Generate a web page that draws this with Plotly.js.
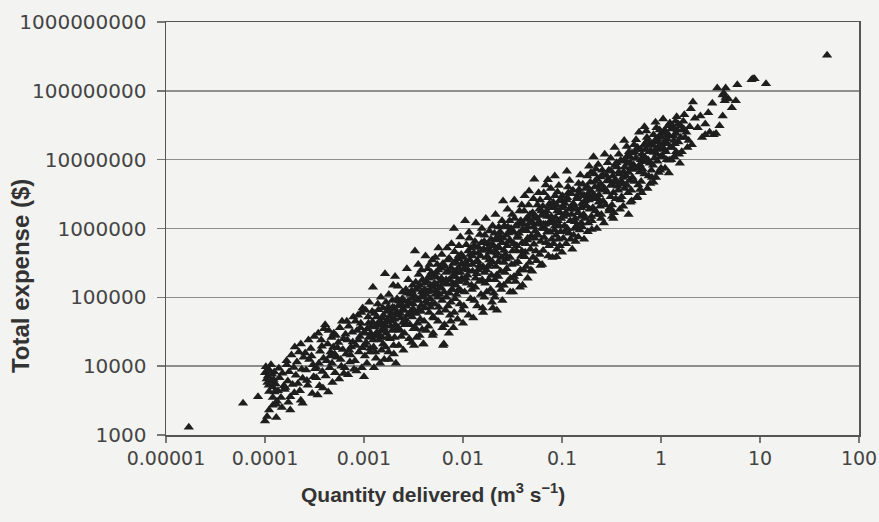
<!DOCTYPE html>
<html>
<head>
<meta charset="utf-8">
<script src="https://cdn.plot.ly/plotly-3.0.1.min.js"></script>
<style>
html,body{margin:0;padding:0;background:#f3f3f1;}
#chart{width:879px;height:522px;}
</style>
</head>
<body>
<div id="chart"></div>
<script>
// [quantity delivered (m3/s), total expense ($)]
const sparseLow = [[1.7e-5,1300],[6e-5,2900],[8.5e-5,3600]];

const decadeE4 = [
[1.0e-4,1600],[1.05e-4,1850],[1.02e-4,9800],[1.08e-4,9000],[1.0e-4,8000],[1.12e-4,8500],[1.07e-4,7200],[1.18e-4,7600],[1.04e-4,6500],[1.14e-4,6000],[1.22e-4,6400],[1.09e-4,5300],[1.2e-4,5000],[1.2e-4,2700],[1.2e-4,3500],[1.1e-4,4300],[1.15e-4,10500],[1.06e-4,5800],[1.24e-4,8200],[1.1e-4,2300],
[1.3e-4,1800],[1.3e-4,2800],[1.28e-4,5500],[1.35e-4,4400],[1.25e-4,4200],[1.4e-4,6800],[1.45e-4,3500],[1.5e-4,7900],[1.38e-4,9300],[1.55e-4,5200],[1.32e-4,3100],[1.48e-4,2500],[1.58e-4,4600],
[1.6e-4,4900],[1.65e-4,12000],[1.66e-4,10500],[1.8e-4,2300],[1.8e-4,3600],[1.7e-4,6100],[1.75e-4,8300],[1.9e-4,5400],[1.85e-4,14500],[1.95e-4,9600],[1.72e-4,3000],[1.98e-4,4100],
[2.3e-4,3200],[2.4e-4,2900],[2.05e-4,7400],[2.1e-4,11500],[2.2e-4,16000],[2.15e-4,5600],[2.35e-4,9000],[2.45e-4,13500],[2.0e-4,19000],[2.25e-4,4400],[2.4e-4,6700],[2.3e-4,21000],
[2.7e-4,5300],[3.0e-4,4000],[2.6e-4,8800],[2.8e-4,12500],[2.9e-4,18000],[3.1e-4,7000],[2.55e-4,15500],[2.75e-4,24000],[3.05e-4,10500],[3.15e-4,27000],[2.65e-4,6200],[2.95e-4,14000],[3.2e-4,9200],
[3.4e-4,3800],[3.3e-4,6800],[3.5e-4,11000],[3.6e-4,16500],[3.7e-4,24000],[3.8e-4,8400],[3.45e-4,30000],[3.9e-4,13000],[3.55e-4,5200],[3.75e-4,19500],[3.95e-4,35000],[3.3e-4,9600],[3.85e-4,4800],
[4.1e-4,7200],[4.2e-4,12000],[4.3e-4,21000],[4.4e-4,33000],[4.5e-4,9500],[4.6e-4,16000],[4.7e-4,26000],[4.8e-4,5800],[4.05e-4,40000],[4.55e-4,14000],[4.9e-4,19000],[4.35e-4,4200],[4.75e-4,11000],[4.95e-4,30000],
[5.1e-4,8000],[5.3e-4,13500],[5.5e-4,22000],[5.7e-4,36000],[5.9e-4,10000],[6.1e-4,17500],[5.2e-4,28000],[5.6e-4,6500],[6.0e-4,45000],[5.4e-4,18500],[5.8e-4,12500],[6.2e-4,25000],[5.05e-4,15000],[6.25e-4,7800],
[6.4e-4,9500],[6.6e-4,15000],[6.8e-4,24000],[7.0e-4,38000],[7.2e-4,11500],[7.4e-4,19000],[7.6e-4,31000],[7.8e-4,52000],[6.5e-4,29000],[6.9e-4,7500],[7.3e-4,14500],[7.7e-4,22500],[7.9e-4,9000],[6.7e-4,45000],[7.1e-4,17000],
[8.1e-4,12000],[8.3e-4,20000],[8.5e-4,33000],[8.7e-4,55000],[8.9e-4,16000],[9.1e-4,27000],[9.3e-4,42000],[9.5e-4,9500],[9.7e-4,70000],[8.4e-4,8500],[8.8e-4,24000],[9.2e-4,36000],[9.6e-4,18500],[9.9e-4,30000],[8.2e-4,45000],[9.4e-4,60000]
];

const decadeE3 = [
[1.0e-3,7000],[1.02e-3,14000],[1.05e-3,22000],[1.08e-3,35000],[1.1e-3,52000],[1.13e-3,85000],[1.16e-3,18000],[1.19e-3,28000],[1.22e-3,44000],[1.23e-3,140000],[1.04e-3,65000],[1.07e-3,11000],[1.12e-3,26000],[1.18e-3,38000],[1.21e-3,62000],[1.01e-3,31000],[1.15e-3,16000],[1.24e-3,24000],
[1.26e-3,9500],[1.3e-3,16000],[1.33e-3,27000],[1.36e-3,41000],[1.4e-3,66000],[1.45e-3,11000],[1.48e-3,100000],[1.5e-3,33000],[1.53e-3,50000],[1.56e-3,21000],[1.28e-3,58000],[1.38e-3,80000],[1.42e-3,24000],[1.58e-3,36000],[1.32e-3,13000],[1.46e-3,45000],[1.55e-3,70000],[1.35e-3,31000],[1.5e-3,17000],
[1.6e-3,12500],[1.63e-3,220000],[1.65e-3,19000],[1.68e-3,30000],[1.72e-3,47000],[1.75e-3,72000],[1.78e-3,110000],[1.8e-3,12500],[1.83e-3,25000],[1.86e-3,38000],[1.9e-3,58000],[1.93e-3,90000],[1.97e-3,150000],[1.62e-3,40000],[1.7e-3,62000],[1.77e-3,16000],[1.85e-3,53000],[1.92e-3,33000],[1.99e-3,20000],[1.67e-3,85000],
[2.0e-3,15000],[2.04e-3,26000],[2.08e-3,40000],[2.12e-3,61000],[2.16e-3,95000],[2.2e-3,145000],[2.25e-3,20000],[2.3e-3,33000],[2.35e-3,50000],[2.4e-3,78000],[2.45e-3,120000],[2.02e-3,70000],[2.1e-3,11000],[2.18e-3,55000],[2.28e-3,88000],[2.38e-3,27000],[2.48e-3,43000],[2.06e-3,200000],[2.22e-3,36000],[2.42e-3,65000],
[2.5e-3,17000],[2.56e-3,30000],[2.62e-3,48000],[2.68e-3,74000],[2.74e-3,115000],[2.8e-3,180000],[2.86e-3,25000],[2.92e-3,40000],[2.98e-3,62000],[3.04e-3,96000],[3.1e-3,150000],[3.16e-3,35000],[2.53e-3,90000],[2.65e-3,130000],[2.77e-3,56000],[2.89e-3,82000],[3.01e-3,22000],[3.13e-3,68000],[2.59e-3,40000],[2.71e-3,260000],[2.95e-3,110000],[3.07e-3,52000],
[3.2e-3,20000],[3.27e-3,470000],[3.3e-3,36000],[3.36e-3,58000],[3.43e-3,90000],[3.5e-3,140000],[3.57e-3,215000],[3.64e-3,28000],[3.7e-3,48000],[3.77e-3,76000],[3.84e-3,120000],[3.9e-3,180000],[3.96e-3,21000],[3.23e-3,105000],[3.33e-3,165000],[3.47e-3,42000],[3.6e-3,66000],[3.74e-3,100000],[3.87e-3,34000],[3.53e-3,300000],[3.4e-3,26000],[3.8e-3,250000],
[4.0e-3,21000],[4.05e-3,45000],[4.13e-3,70000],[4.22e-3,110000],[4.3e-3,170000],[4.4e-3,260000],[4.48e-3,38000],[4.56e-3,60000],[4.64e-3,95000],[4.72e-3,150000],[4.8e-3,230000],[4.9e-3,350000],[4.98e-3,52000],[4.1e-3,130000],[4.25e-3,33000],[4.35e-3,82000],[4.52e-3,200000],[4.68e-3,125000],[4.85e-3,80000],[4.94e-3,28000],[4.18e-3,400000],[4.6e-3,300000],
[5.0e-3,30000],[5.1e-3,50000],[5.2e-3,80000],[5.3e-3,125000],[5.4e-3,195000],[5.5e-3,300000],[5.6e-3,45000],[5.7e-3,72000],[5.8e-3,110000],[5.9e-3,170000],[6.0e-3,265000],[6.1e-3,420000],[6.2e-3,36000],[6.3e-3,20000],[5.15e-3,160000],[5.35e-3,230000],[5.55e-3,100000],[5.75e-3,60000],[5.95e-3,140000],[6.15e-3,90000],[5.25e-3,380000],[5.65e-3,520000],
[6.4e-3,21000],[6.5e-3,40000],[6.65e-3,65000],[6.8e-3,100000],[6.95e-3,155000],[7.1e-3,240000],[7.25e-3,370000],[7.4e-3,55000],[7.55e-3,85000],[7.7e-3,130000],[7.85e-3,200000],[7.98e-3,310000],[6.55e-3,280000],[6.75e-3,180000],[6.9e-3,520000],[7.05e-3,75000],[7.3e-3,115000],[7.5e-3,45000],[7.65e-3,600000],[7.9e-3,160000],[6.45e-3,120000],[7.2e-3,30000],
[8.0e-3,36000],[8.15e-3,60000],[8.3e-3,95000],[8.5e-3,150000],[8.7e-3,230000],[8.9e-3,360000],[9.1e-3,560000],[9.3e-3,80000],[9.5e-3,125000],[9.7e-3,190000],[9.9e-3,300000],[8.2e-3,460000],[8.4e-3,200000],[8.6e-3,110000],[8.8e-3,48000],[9.0e-3,270000],[9.2e-3,170000],[9.4e-3,750000],[9.6e-3,420000],[9.8e-3,65000],[8.1e-3,1000000],[9.05e-3,130000]
];

const decadeE2 = [
[1.0e-2,42000],[1.02e-2,75000],[1.04e-2,120000],[1.07e-2,190000],[1.1e-2,300000],[1.13e-2,470000],[1.16e-2,720000],[1.19e-2,95000],[1.22e-2,150000],[1.25e-2,240000],[1.01e-2,380000],[1.05e-2,1300000],[1.08e-2,580000],[1.11e-2,210000],[1.14e-2,55000],[1.17e-2,350000],[1.2e-2,520000],[1.23e-2,130000],[1.03e-2,260000],[1.15e-2,880000],[1.24e-2,400000],[1.09e-2,160000],
[1.27e-2,50000],[1.3e-2,90000],[1.33e-2,140000],[1.37e-2,220000],[1.4e-2,340000],[1.44e-2,530000],[1.48e-2,820000],[1.52e-2,110000],[1.56e-2,180000],[1.59e-2,280000],[1.29e-2,440000],[1.32e-2,650000],[1.35e-2,1200000],[1.39e-2,75000],[1.42e-2,250000],[1.46e-2,170000],[1.5e-2,400000],[1.54e-2,620000],[1.58e-2,70000],[1.34e-2,190000],[1.47e-2,290000],[1.55e-2,1000000],
[1.6e-2,60000],[1.64e-2,100000],[1.68e-2,160000],[1.72e-2,250000],[1.76e-2,390000],[1.8e-2,600000],[1.85e-2,920000],[1.9e-2,130000],[1.94e-2,210000],[1.98e-2,330000],[1.62e-2,500000],[1.66e-2,800000],[1.7e-2,1400000],[1.74e-2,120000],[1.78e-2,280000],[1.82e-2,180000],[1.87e-2,460000],[1.92e-2,700000],[1.96e-2,85000],[1.65e-2,230000],[1.84e-2,350000],[1.99e-2,1100000],
[2.0e-2,70000],[2.05e-2,115000],[2.1e-2,180000],[2.15e-2,280000],[2.2e-2,440000],[2.25e-2,680000],[2.3e-2,1050000],[2.35e-2,150000],[2.4e-2,240000],[2.45e-2,380000],[2.2e-2,65000],[2.1e-2,100000],[2.03e-2,550000],[2.08e-2,850000],[2.13e-2,1600000],[2.18e-2,210000],[2.28e-2,330000],[2.33e-2,520000],[2.38e-2,780000],[2.43e-2,130000],[2.48e-2,1300000],[2.27e-2,200000],[2.17e-2,400000],
[2.5e-2,90000],[2.54e-2,2500000],[2.58e-2,150000],[2.65e-2,230000],[2.72e-2,360000],[2.8e-2,560000],[2.87e-2,860000],[2.95e-2,1300000],[3.02e-2,190000],[3.1e-2,300000],[3.17e-2,470000],[2.55e-2,720000],[2.62e-2,1100000],[2.68e-2,420000],[2.76e-2,260000],[2.84e-2,170000],[2.91e-2,650000],[2.99e-2,380000],[3.06e-2,1000000],[3.14e-2,1600000],[2.6e-2,320000],[2.82e-2,1900000],[3.0e-2,120000],
[3.2e-2,120000],[3.28e-2,200000],[3.36e-2,310000],[3.45e-2,480000],[3.54e-2,740000],[3.63e-2,1150000],[3.72e-2,1800000],[3.8e-2,250000],[3.88e-2,400000],[3.96e-2,620000],[3.24e-2,900000],[3.32e-2,1400000],[3.4e-2,170000],[3.5e-2,560000],[3.58e-2,330000],[3.67e-2,850000],[3.76e-2,140000],[3.84e-2,1300000],[3.92e-2,2200000],[3.3e-2,2600000],[3.6e-2,220000],[3.98e-2,950000],
[4.0e-2,150000],[4.1e-2,250000],[4.2e-2,390000],[4.3e-2,600000],[4.4e-2,930000],[4.5e-2,1450000],[4.6e-2,2200000],[4.7e-2,320000],[4.8e-2,500000],[4.9e-2,780000],[4.05e-2,1150000],[4.15e-2,1800000],[4.25e-2,450000],[4.35e-2,280000],[4.45e-2,680000],[4.55e-2,1050000],[4.65e-2,3500000],[4.75e-2,1600000],[4.85e-2,250000],[4.95e-2,1250000],[4.5e-2,190000],[4.2e-2,3000000],
[5.0e-2,240000],[5.1e-2,380000],[5.2e-2,590000],[5.35e-2,910000],[5.5e-2,1400000],[5.65e-2,2200000],[5.8e-2,3300000],[5.95e-2,420000],[6.1e-2,650000],[6.25e-2,1000000],[5.05e-2,1700000],[5.15e-2,2700000],[5.3e-2,720000],[5.45e-2,470000],[5.6e-2,1150000],[5.75e-2,800000],[5.9e-2,1900000],[6.05e-2,290000],[6.2e-2,1550000],[5.25e-2,5200000],[5.55e-2,340000],[6.0e-2,2600000],
[6.3e-2,300000],[6.45e-2,480000],[6.6e-2,740000],[6.8e-2,1150000],[7.0e-2,1800000],[7.2e-2,2800000],[7.2e-2,5100000],[7.4e-2,560000],[7.6e-2,880000],[7.8e-2,1350000],[6.4e-2,2100000],[6.55e-2,3300000],[6.7e-2,1000000],[6.9e-2,620000],[7.1e-2,1500000],[7.3e-2,400000],[7.5e-2,2300000],[7.7e-2,3800000],[7.9e-2,700000],[6.85e-2,4300000],[7.35e-2,1200000],[7.95e-2,2000000],
[8.0e-2,380000],[8.2e-2,600000],[8.4e-2,950000],[8.6e-2,1450000],[8.8e-2,390000],[8.8e-2,2200000],[9.0e-2,3400000],[9.2e-2,700000],[9.4e-2,1100000],[9.6e-2,1700000],[9.8e-2,2600000],[8.1e-2,1250000],[8.3e-2,2000000],[8.5e-2,3000000],[8.7e-2,800000],[8.9e-2,500000],[9.1e-2,1300000],[9.3e-2,4200000],[9.5e-2,560000],[9.7e-2,900000],[9.9e-2,2000000],[8.45e-2,5800000]
];

const decadeE1 = [
[0.1,450000],[0.103,720000],[0.106,1100000],[0.109,1700000],[0.112,6800000],[0.112,2600000],[0.115,4000000],[0.118,850000],[0.121,1300000],[0.124,2000000],[0.101,3000000],[0.104,1500000],[0.107,2300000],[0.11,600000],[0.113,1000000],[0.116,3300000],[0.119,5000000],[0.122,700000],[0.125,1600000],[0.108,900000],
[0.127,500000],[0.131,800000],[0.135,1250000],[0.139,1900000],[0.143,2900000],[0.147,4500000],[0.151,950000],[0.155,1500000],[0.159,2300000],[0.129,3600000],[0.133,2100000],[0.137,650000],[0.141,1100000],[0.145,1700000],[0.149,3300000],[0.153,6000000],[0.157,1200000],[0.134,1000000],[0.146,750000],
[0.16,1050000],[0.165,1600000],[0.17,2500000],[0.175,3800000],[0.18,5800000],[0.185,1200000],[0.19,1900000],[0.195,2900000],[0.2,970000],[0.162,4400000],[0.167,700000],[0.172,1400000],[0.178,2100000],[0.183,3200000],[0.188,8000000],[0.193,4700000],[0.198,1500000],[0.168,3000000],[0.182,900000],[0.196,6500000],
[0.2,1300000],[0.205,2000000],[0.21,3100000],[0.215,4800000],[0.22,7300000],[0.225,1000000],[0.23,1600000],[0.235,2400000],[0.24,3700000],[0.245,5600000],[0.208,11000000],[0.218,1800000],[0.228,2800000],[0.238,4200000],[0.248,1400000],[0.212,6200000],[0.232,8500000],[0.242,2100000],
[0.25,1600000],[0.26,2500000],[0.27,3800000],[0.28,5900000],[0.29,9000000],[0.3,1900000],[0.31,2900000],[0.32,4400000],[0.3,1800000],[0.305,2000000],[0.255,7000000],[0.265,1200000],[0.275,2200000],[0.285,3400000],[0.295,5200000],[0.315,6800000],[0.27,12000000],[0.31,10500000],[0.32,1500000],
[0.32,2200000],[0.33,3300000],[0.345,5100000],[0.36,7800000],[0.375,12000000],[0.39,2600000],[0.335,1700000],[0.35,2700000],[0.365,4100000],[0.38,6200000],[0.395,9500000],[0.34,15000000],[0.37,3600000],[0.385,1900000],[0.355,9000000],[0.4,4800000],[0.33,1400000],
[0.4,2900000],[0.41,4400000],[0.42,6700000],[0.435,10000000],[0.45,15500000],[0.465,3300000],[0.48,5000000],[0.495,7600000],[0.415,2100000],[0.43,3800000],[0.445,5800000],[0.46,8800000],[0.475,13000000],[0.49,2400000],[0.425,19000000],[0.455,4200000],[0.485,11000000],[0.47,1600000],
[0.5,3600000],[0.515,5500000],[0.53,8400000],[0.545,12800000],[0.56,19500000],[0.575,2900000],[0.57,2800000],[0.59,4300000],[0.61,6600000],[0.625,10000000],[0.505,2500000],[0.52,7200000],[0.54,4800000],[0.555,10500000],[0.58,15000000],[0.6,25000000],[0.615,3700000],[0.535,16500000],[0.595,7800000],[0.62,14000000],
[0.63,4800000],[0.65,7300000],[0.67,11000000],[0.69,17000000],[0.71,26000000],[0.73,3800000],[0.75,5800000],[0.77,8900000],[0.79,13500000],[0.64,3300000],[0.66,9300000],[0.68,6200000],[0.7,14000000],[0.72,21000000],[0.74,10000000],[0.76,16000000],[0.78,4500000],[0.8,7000000],[0.68,30000000],
[0.81,5500000],[0.83,8300000],[0.85,12700000],[0.87,19000000],[0.89,5500000],[0.9,29000000],[0.92,9500000],[0.94,14500000],[0.96,22000000],[0.98,7000000],[0.82,16500000],[0.86,10500000],[0.88,35000000],[0.91,12000000],[0.93,18000000],[0.95,6500000],[0.97,27000000],[0.99,11000000],[0.84,4700000]
];

const decadeE0 = [
[1.0,7500000],[1.03,11500000],[1.06,17500000],[1.09,27000000],[1.1,7500000],[1.12,13000000],[1.15,20000000],[1.18,31000000],[1.21,9800000],[1.24,15000000],[1.02,24000000],[1.05,39000000],[1.08,14000000],[1.14,10000000],[1.17,23000000],[1.2,6400000],[1.23,34000000],[1.11,18000000],
[1.3,15000000],[1.27,10000000],[1.34,22000000],[1.4,36000000],[1.42,13000000],[1.46,27000000],[1.5,18000000],[1.55,8900000],[1.58,31000000],[1.32,30000000],[1.38,17000000],[1.44,42000000],[1.52,12000000],[1.36,11000000],[1.65,27000000],
[1.75,21000000],[1.85,15000000],[2.05,16500000],[1.68,36000000],[1.8,25000000],[1.9,19000000],[1.95,30000000],[1.62,13000000],[1.72,45000000],[2.0,55000000],
[2.1,69000000],[2.5,43000000],[3.0,48000000],[3.3,66000000],[2.8,33000000],[2.35,29000000],[3.9,31000000],[2.8,23000000],[3.1,25000000],[3.4,23000000],[4.2,43000000],[2.2,40000000],[2.6,21000000],[3.6,24000000]
];

const coreExtra = [
[1.03e-3,20000],[1.11e-3,42000],[1.17e-3,30000],[1.25e-3,19000],[1.29e-3,37000],[1.34e-3,52000],[1.41e-3,29000],[1.47e-3,39000],[1.52e-3,26000],[1.57e-3,55000],[1.61e-3,33000],[1.69e-3,44000],[1.74e-3,26000],[1.81e-3,68000],[1.88e-3,45000],[1.95e-3,72000],
[2.03e-3,48000],[2.14e-3,34000],[2.21e-3,75000],[2.33e-3,58000],[2.44e-3,95000],[2.55e-3,65000],[2.67e-3,42000],[2.79e-3,88000],[2.91e-3,55000],[3.03e-3,125000],[3.14e-3,80000],[3.26e-3,60000],[3.38e-3,130000],[3.52e-3,92000],[3.66e-3,150000],[3.79e-3,62000],[3.93e-3,105000],[4.07e-3,160000],[4.21e-3,88000],[4.37e-3,120000],[4.53e-3,190000],[4.7e-3,72000],[4.87e-3,140000],
[5.05e-3,210000],[5.22e-3,110000],[5.42e-3,150000],[5.62e-3,250000],[5.83e-3,135000],[6.05e-3,190000],[6.28e-3,310000],[6.52e-3,160000],[6.76e-3,230000],[7.0e-3,350000],[7.27e-3,180000],[7.54e-3,270000],[7.82e-3,130000],[8.1e-3,240000],[8.4e-3,330000],[8.72e-3,170000],[9.05e-3,400000],[9.4e-3,230000],[9.75e-3,310000],
[1.01e-2,180000],[1.06e-2,320000],[1.12e-2,250000],[1.18e-2,420000],[1.24e-2,300000],[1.3e-2,560000],[1.36e-2,330000],[1.43e-2,440000],[1.5e-2,270000],[1.57e-2,480000],[1.64e-2,650000],[1.72e-2,380000],[1.8e-2,520000],[1.88e-2,300000],[1.97e-2,600000],
[2.06e-2,450000],[2.16e-2,720000],[2.26e-2,540000],[2.37e-2,900000],[2.48e-2,620000],[2.6e-2,480000],[2.72e-2,800000],[2.85e-2,1050000],[2.98e-2,680000],[3.12e-2,880000],[3.27e-2,600000],[3.42e-2,1100000],[3.58e-2,780000],[3.75e-2,1250000],[3.93e-2,470000],[4.11e-2,950000],[4.3e-2,1350000],[4.5e-2,720000],[4.71e-2,1200000],[4.93e-2,1600000],
[5.16e-2,1050000],[5.4e-2,1500000],[5.65e-2,820000],[5.92e-2,1250000],[6.2e-2,1800000],[6.49e-2,1150000],[6.79e-2,1650000],[7.11e-2,900000],[7.45e-2,2100000],[7.8e-2,1500000],[8.16e-2,2400000],[8.55e-2,1100000],[8.95e-2,1800000],[9.37e-2,2500000],[9.8e-2,1400000],
[0.103,2100000],[0.108,1600000],[0.113,2800000],[0.118,1900000],[0.124,3200000],[0.13,2300000],[0.136,1400000],[0.142,2700000],[0.149,3700000],[0.156,2000000],[0.163,3000000],[0.171,2200000],[0.179,4100000],[0.187,2600000],[0.196,3500000],
[0.205,2700000],[0.215,4000000],[0.225,5200000],[0.236,3100000],[0.247,4400000],[0.259,6000000],[0.271,3600000],[0.284,4900000],[0.297,7000000],[0.311,4200000],[0.326,5800000],[0.341,8200000],[0.357,4700000],[0.374,6600000],[0.392,9800000],[0.41,5500000],[0.43,7800000],[0.45,11000000],[0.47,6500000],[0.49,9000000],
[0.51,12500000],[0.535,7500000],[0.56,10500000],[0.585,14000000],[0.61,8500000],[0.64,12000000],[0.67,16000000],[0.7,10500000],[0.73,19000000],[0.76,13000000],[0.8,17000000],[0.84,23000000],[0.88,14000000],[0.92,20000000],[0.96,16000000],
[1.01,21000000],[1.06,14500000],[1.11,25000000],[1.16,17000000],[1.22,22000000],[1.28,28000000],[1.35,19000000],[1.42,24000000],[1.5,33000000],[1.58,21000000],[1.7,28000000]
];

const sparseHigh = [
[3.7,110000000],[4.5,110000000],[5.9,123000000],[8.2,145000000],[8.5,150000000],[8.8,150000000],[11.5,127000000],[47.6,330000000],[4.2,87000000],[4.5,80000000],[4.8,76000000],[5.7,72000000],[5.2,57000000],[4.3,92000000],[4.4,72000000]
];

const xTickVals = [0.00001,0.0001,0.001,0.01,0.1,1,10,100];
const xTickText = ['0.00001','0.0001','0.001','0.01','0.1','1','10','100'];
const yTickVals = [1000,10000,100000,1000000,10000000,100000000,1000000000];
const yTickText = ['1000','10000','100000','1000000','10000000','100000000','1000000000'];
const xTitle = 'Quantity delivered (m<sup>3</sup> s<sup>−1</sup>)';
const yTitle = 'Total expense ($)';

const allPts = [].concat(sparseLow, decadeE4, decadeE3, decadeE2, decadeE1, decadeE0, coreExtra, sparseHigh);
const qty = allPts.map(p => p[0]);
const expense = allPts.map(p => p[1]);

const trace = {
  x: qty, y: expense, type: 'scatter', mode: 'markers',
  marker: {symbol: 'triangle-up', size: 9, color: '#1e1e1e', line: {width: 0}},
  hoverinfo: 'skip'
};

const tickFontY = {family: '"DejaVu Sans", Arial, sans-serif', size: 20, color: '#444'};
const tickFontX = {family: '"DejaVu Sans", Arial, sans-serif', size: 19, color: '#444'};
const titleFamily = '"Liberation Sans", Arial, sans-serif';

const layout = {
  width: 879, height: 522,
  margin: {l: 166, r: 20, t: 22, b: 87},
  paper_bgcolor: '#f3f3f1', plot_bgcolor: '#f3f3f1',
  showlegend: false,
  xaxis: {
    type: 'log', range: [-5, 2],
    tickvals: xTickVals, ticktext: xTickText,
    ticks: 'outside', ticklen: 6, tickwidth: 1.5, tickcolor: '#777',
    showgrid: false, zeroline: false,
    showline: true, linecolor: '#555', linewidth: 1.5, mirror: true,
    tickfont: tickFontX
  },
  yaxis: {
    type: 'log', range: [3, 9],
    tickvals: yTickVals, ticktext: yTickText,
    ticks: 'outside', ticklen: 8, tickwidth: 1.5, tickcolor: '#777',
    ticklabelstandoff: 6,
    showgrid: true, gridcolor: '#8e8e8e', gridwidth: 1.5,
    zeroline: false,
    showline: true, linecolor: '#555', linewidth: 1.5, mirror: true,
    tickfont: tickFontY
  },
  annotations: [
    {text: xTitle, xref: 'paper', yref: 'paper', x: 0.385, y: -0.1404,
     xanchor: 'center', yanchor: 'middle', showarrow: false,
     font: {family: titleFamily, size: 21, color: '#333', weight: 'bold'}},
    {text: yTitle, xref: 'paper', yref: 'paper', x: -0.2092, y: 0.385,
     xanchor: 'center', yanchor: 'middle', textangle: -90, showarrow: false,
     font: {family: titleFamily, size: 24, color: '#333', weight: 'bold'}}
  ]
};

Plotly.newPlot('chart', [trace], layout, {staticPlot: true, displayModeBar: false});
</script>
</body>
</html>
